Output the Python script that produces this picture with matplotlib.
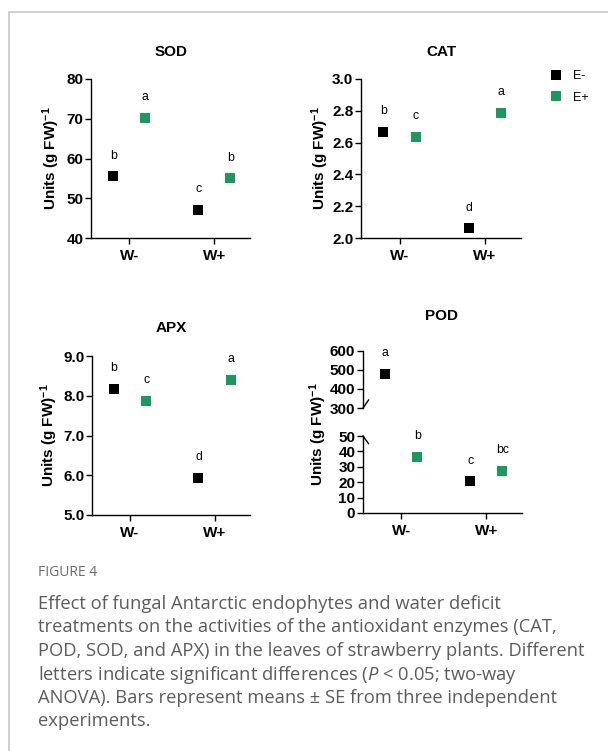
import matplotlib
matplotlib.use("Agg")
import matplotlib.pyplot as plt
from matplotlib.lines import Line2D

plt.rcParams['font.family'] = ['Liberation Sans', 'DejaVu Sans']
plt.rcParams['mathtext.fontset'] = 'custom'
plt.rcParams['mathtext.rm'] = 'Liberation Sans'
plt.rcParams['mathtext.bf'] = 'Liberation Sans:bold'
plt.rcParams['mathtext.it'] = 'Open Sans:italic'

# ---------------- data ----------------
groups = ["W-", "W+"]
series = ["E-", "E+"]

sod_em = [55.5, 47.0]
sod_ep = [70.3, 55.0]
sod_err_em = [0.6, 0.7]
sod_err_ep = [0.6, 0.6]
sod_let_em = ["b", "c"]
sod_let_ep = ["a", "b"]

cat_em = [2.665, 2.06]
cat_ep = [2.635, 2.785]
cat_err_em = [0.01, 0.012]
cat_err_ep = [0.012, 0.012]
cat_let_em = ["b", "d"]
cat_let_ep = ["c", "a"]

apx_em = [8.18, 5.93]
apx_ep = [7.88, 8.40]
apx_err_em = [0.04, 0.05]
apx_err_ep = [0.05, 0.05]
apx_let_em = ["b", "d"]
apx_let_ep = ["c", "a"]

pod_em = [480.0, 20.5]
pod_ep = [36.5, 27.5]
pod_err_em = [8.0, 1.2]
pod_err_ep = [1.2, 1.2]
pod_let_em = ["a", "c"]
pod_let_ep = ["b", "bc"]

sod_ticks = [40, 50, 60, 70, 80]
cat_ticks = [2.0, 2.2, 2.4, 2.6, 2.8, 3.0]
apx_ticks = [5.0, 6.0, 7.0, 8.0, 9.0]
pod_hi_ticks = [300, 400, 500, 600]
pod_lo_ticks = [0, 10, 20, 30, 40, 50]

caption_head = "FIGURE 4"
caption_lines = [
    "Effect of fungal Antarctic endophytes and water deficit",
    "treatments on the activities of the antioxidant enzymes (CAT,",
    "POD, SOD, and APX) in the leaves of strawberry plants. Different",
    "letters indicate significant differences ($P$ < 0.05; two-way",
    "ANOVA). Bars represent means \u00b1 SE from three independent",
    "experiments.",
]

# ---------------- style ----------------
W, H = 608, 751
BLACK = "#000000"
GREEN = "#1a9a5a"
colors = [BLACK, GREEN]
offs = [-0.19, 0.19]
MS = 7.6

fig = plt.figure(figsize=(W / 100, H / 100), dpi=100)


def rect(x0, y_top, x1, y_bot):
    return [x0 / W, 1 - y_bot / H, (x1 - x0) / W, (y_bot - y_top) / H]


def style_axes(ax, ticks, fmt, xaxis=True):
    ax.spines['top'].set_visible(False)
    ax.spines['right'].set_visible(False)
    ax.spines['left'].set_linewidth(1.0)
    ax.spines['bottom'].set_linewidth(1.0)
    ax.set_yticks(ticks)
    ax.set_yticklabels([fmt.format(t) for t in ticks], fontsize=11, fontweight='bold')
    ax.tick_params(axis='y', length=4, width=1.0, pad=1.5)
    if xaxis:
        ax.set_xticks([0, 1])
        ax.set_xticklabels(groups, fontsize=11, fontweight='bold')
        ax.tick_params(axis='x', length=4, width=1.0, pad=4)
    ax.set_xlim(-0.45, 1.42)


def draw(ax, em, ep, eem, eep, lem, lep, show=None):
    for si, (vals, errs, lets) in enumerate([(em, eem, lem), (ep, eep, lep)]):
        for gi in range(2):
            if show is not None and not show(vals[gi]):
                continue
            x = gi + offs[si]
            ax.errorbar([x], [vals[gi]], yerr=[errs[gi]], fmt='s', color=colors[si],
                        ms=MS, mew=0, elinewidth=1.0, capsize=2.5, capthick=1.0,
                        clip_on=False, zorder=3)
            ax.annotate(lets[gi], (x, vals[gi]), xytext=(0, 15), textcoords='offset points',
                        ha='center', va='center', fontsize=8.8, annotation_clip=False)


def title(txt, xc, yc):
    fig.text(xc / W, 1 - yc / H, txt, ha='center', va='center', fontsize=11, fontweight='bold')


def ylab(xc, yc):
    fig.text(xc / W, 1 - yc / H, r"Units (g FW)$^{\mathbf{-1}}$", rotation=90,
             ha='center', va='center', fontsize=11, fontweight='bold')


# SOD
ax1 = fig.add_axes(rect(91, 79, 250, 238))
style_axes(ax1, sod_ticks, "{:.0f}")
ax1.set_ylim(40, 80)
draw(ax1, sod_em, sod_ep, sod_err_em, sod_err_ep, sod_let_em, sod_let_ep)
title("SOD", 171, 52)
ylab(51, 158)

# CAT
ax2 = fig.add_axes(rect(361, 79, 521, 238))
style_axes(ax2, cat_ticks, "{:.1f}")
ax2.set_ylim(2.0, 3.0)
draw(ax2, cat_em, cat_ep, cat_err_em, cat_err_ep, cat_let_em, cat_let_ep)
title("CAT", 441, 52)
ylab(320, 158)

# legend
handles = [Line2D([0], [0], marker='s', color=c, ls='none', ms=MS, mew=0) for c in colors]
fig.legend(handles, series, loc='upper left', bbox_to_anchor=(543 / W, 1 - 64 / H),
           frameon=False, fontsize=9, handlelength=1.0, handletextpad=0.9,
           labelspacing=0.75, borderpad=0)

# APX
ax3 = fig.add_axes(rect(92, 356, 250, 515))
style_axes(ax3, apx_ticks, "{:.1f}")
ax3.set_ylim(5.0, 9.0)
draw(ax3, apx_em, apx_ep, apx_err_em, apx_err_ep, apx_let_em, apx_let_ep)
title("APX", 171, 328)
ylab(49, 435)

# POD (broken axis)
ax4h = fig.add_axes(rect(363, 351, 522, 408))
ax4l = fig.add_axes(rect(363, 436, 522, 513))
style_axes(ax4h, pod_hi_ticks, "{:.0f}", xaxis=False)
ax4h.set_ylim(300, 600)
ax4h.spines['bottom'].set_visible(False)
ax4h.set_xticks([])
ax4h.patch.set_alpha(0)
style_axes(ax4l, pod_lo_ticks, "{:.0f}")
ax4l.set_ylim(0, 50)
ax4l.patch.set_alpha(0)
draw(ax4h, pod_em, pod_ep, pod_err_em, pod_err_ep, pod_let_em, pod_let_ep,
     show=lambda v: v >= 300)
draw(ax4l, pod_em, pod_ep, pod_err_em, pod_err_ep, pod_let_em, pod_let_ep,
     show=lambda v: v < 300)
# break marks
ax4h.plot([0.0, 0.035], [0.0, 0.14], transform=ax4h.transAxes, color='k', lw=1.0, clip_on=False)
ax4l.plot([0.0, 0.035], [1.0, 0.90], transform=ax4l.transAxes, color='k', lw=1.0, clip_on=False)
title("POD", 441, 316)
ylab(318, 434)

# caption
fig.text(38 / W, 1 - 572 / H, caption_head, ha='left', va='center', fontsize=10,
         color='#6b6b6b', family=['Open Sans', 'DejaVu Sans'])
for i, line in enumerate(caption_lines):
    fig.text(38 / W, 1 - (604 + 23.5 * i) / H, line, ha='left', va='center', fontsize=13.2,
             color='#5c5c5c', family=['Open Sans', 'DejaVu Sans'])

# frame lines
fig.add_artist(Line2D([9 / W, 1.0], [1 - 12 / H, 1 - 12 / H], color='#c8c8c8', lw=1.2))
fig.add_artist(Line2D([9 / W, 9 / W], [1 - 12 / H, 0.0], color='#c8c8c8', lw=1.2))

fig.savefig("out.png", dpi=100)
